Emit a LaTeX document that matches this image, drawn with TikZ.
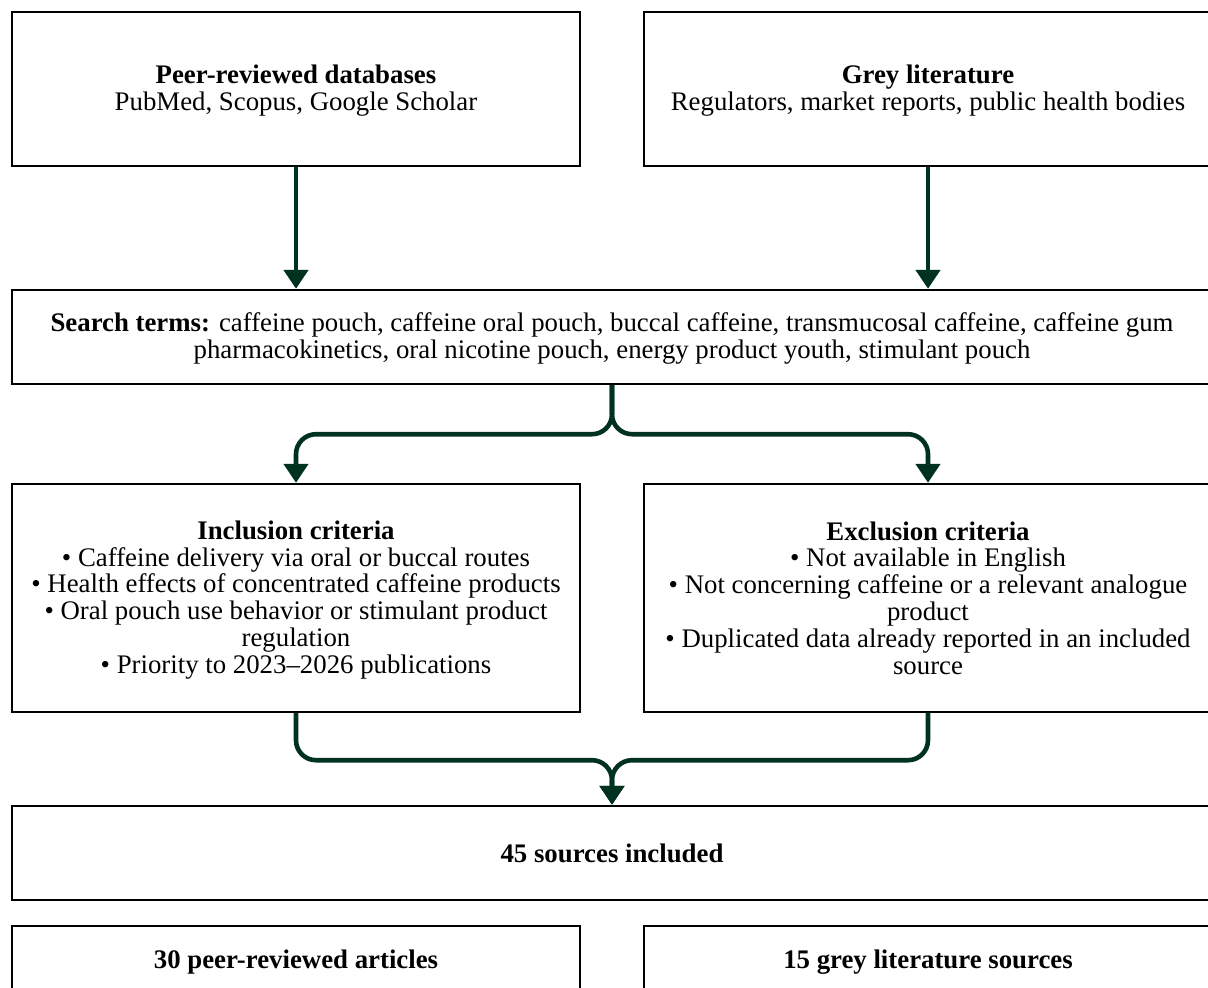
\documentclass[tikz,border=0pt]{standalone}
\usepackage{fontspec}
\setmainfont{Liberation Serif}
\usepackage{tikz}
\usetikzlibrary{arrows.meta}

\definecolor{flowgreen}{HTML}{00331F}
% box text: fixed baselines, and a strut as tall as one line box
\newcommand{\boxfont}{\fontsize{26.8}{26.8}\selectfont\setlength{\lineskiplimit}{-50pt}}
\newcommand{\lstrut}{\rule[-4.4pt]{0pt}{26.8pt}}

\begin{document}
\begin{tikzpicture}[x=1pt, y=-1pt,
    box/.style={draw=black, line width=2.4pt, fill=white, align=center, inner sep=0pt,
      font=\boxfont},
    widebox/.style={box, minimum width=1200pt, minimum height=94pt},
    halfbox/.style={box, minimum width=568pt},
    flow/.style={draw=flowgreen, line width=4.6pt, rounded corners=20pt,
      -{Triangle[width=24pt,length=19pt]}}]
  % Page frame (boxes on the right and at the bottom run off the page)
  \useasboundingbox (0,0) rectangle (1208,988);
  \clip (0,0) rectangle (1208,988);

  % Sources
  \node[halfbox, minimum height=154pt] (peer) at (296,89)
    {\lstrut\textbf{Peer-reviewed databases}\\PubMed, Scopus, Google Scholar\lstrut};
  \node[halfbox, minimum height=154pt] (grey) at (928,89)
    {\lstrut\textbf{Grey literature}\\Regulators, market reports, public health bodies\lstrut};

  % Search terms
  \node[widebox] (search) at (612,337)
    {\lstrut\textbf{Search terms:} caffeine pouch, caffeine oral pouch, buccal caffeine, transmucosal caffeine, caffeine gum\\
     pharmacokinetics, oral nicotine pouch, energy product youth, stimulant pouch\lstrut};

  % Screening criteria
  \node[halfbox, minimum height=228pt] (incl) at (296,598)
    {\lstrut\textbf{Inclusion criteria}\\
     • Caffeine delivery via oral or buccal routes\\
     • Health effects of concentrated caffeine products\\
     • Oral pouch use behavior or stimulant product\\
     regulation\\
     • Priority to 2023–2026 publications\lstrut};
  \node[halfbox, minimum height=228pt] (excl) at (928,598)
    {\lstrut\textbf{Exclusion criteria}\\
     • Not available in English\\
     • Not concerning caffeine or a relevant analogue\\
     product\\
     • Duplicated data already reported in an included\\
     source\lstrut};

  % Result
  \node[widebox] (total) at (612,853) {\lstrut\textbf{45 sources included}};
  \node[halfbox, minimum height=68pt] (peerart) at (296,960) {\lstrut\textbf{30 peer-reviewed articles}};
  \node[halfbox, minimum height=68pt] (greyart) at (928,960) {\lstrut\textbf{15 grey literature sources}};

  % Arrows
  \draw[flow] (peer.south) -- (search.north -| peer.south);
  \draw[flow] (grey.south) -- (search.north -| grey.south);
  \draw[flow] (search.south) -- ++(0,49) -| (incl.north);
  \draw[flow] (search.south) -- ++(0,49) -| (excl.north);
  \draw[flow] (incl.south) -- ++(0,47) -| (total.north);
  \draw[flow] (excl.south) -- ++(0,47) -| (total.north);
\end{tikzpicture}
\end{document}
